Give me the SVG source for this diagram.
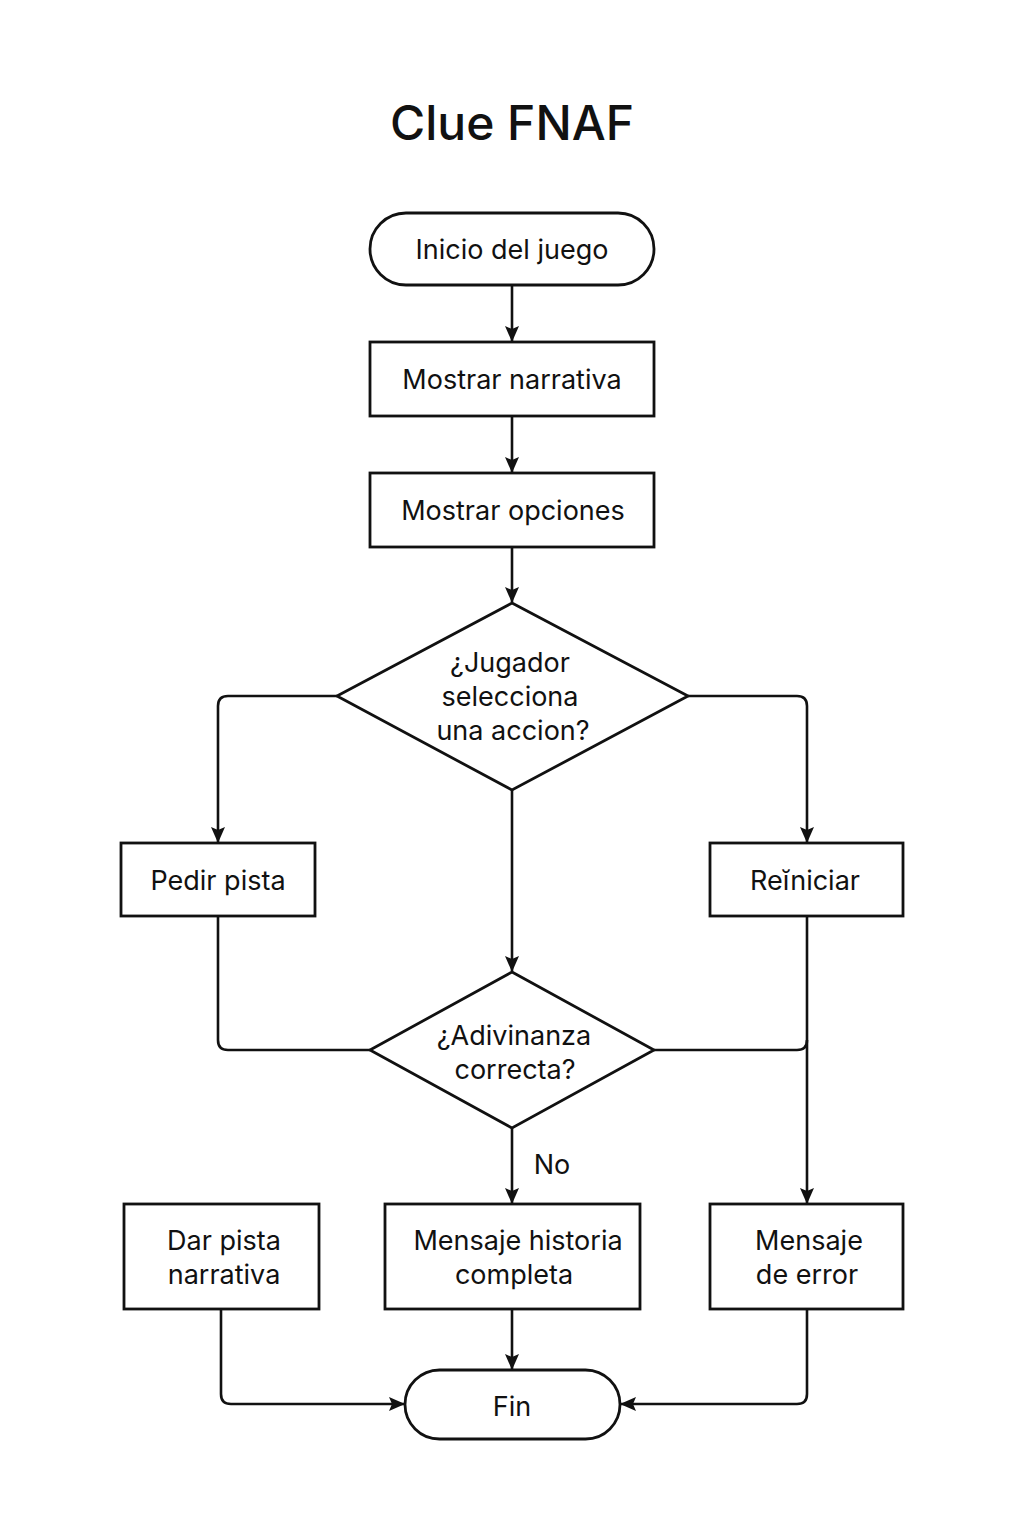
<svg xmlns="http://www.w3.org/2000/svg" width="1024" height="1536" viewBox="0 0 1024 1536">
<defs>
<marker id="ah" viewBox="0 0 16 14" refX="15" refY="7" markerWidth="16" markerHeight="14" markerUnits="userSpaceOnUse" orient="auto">
<path d="M0,0 L16,7 L0,14 L3,7 Z" fill="#111"/>
</marker>
<style>
.n{fill:#fff;stroke:#111;stroke-width:2.8}
.t{font-family:Inter,"Noto Sans","Liberation Sans",sans-serif;font-size:27px;fill:#111;text-anchor:middle}
.c{fill:none;stroke:#111;stroke-width:2.6;stroke-linejoin:round}
</style>
</defs>
<rect width="1024" height="1536" fill="#fff"/>
<text x="512" y="140" font-family="Inter,'Noto Sans','Liberation Sans',sans-serif" font-size="48" font-weight="500" fill="#111" text-anchor="middle">Clue FNAF</text>
<g id="connectors">
<path class="c" d="M512,285 V341" marker-end="url(#ah)"/>
<path class="c" d="M512,416 V472" marker-end="url(#ah)"/>
<path class="c" d="M512,547 V602" marker-end="url(#ah)"/>
<path class="c" d="M337,696 H228 Q218,696 218,706 V842" marker-end="url(#ah)"/>
<path class="c" d="M688,696 H797 Q807,696 807,706 V842" marker-end="url(#ah)"/>
<path class="c" d="M512,790 V971" marker-end="url(#ah)"/>
<path class="c" d="M218,916 V1040 Q218,1050 228,1050 H370"/>
<path class="c" d="M654,1050 H797 Q807,1050 807,1040"/>
<path class="c" d="M807,916 V1203" marker-end="url(#ah)"/>
<path class="c" d="M512,1128 V1203" marker-end="url(#ah)"/>
<path class="c" d="M221,1309 V1394 Q221,1404 231,1404 H404" marker-end="url(#ah)"/>
<path class="c" d="M512,1309 V1369" marker-end="url(#ah)"/>
<path class="c" d="M807,1309 V1394 Q807,1404 797,1404 H621" marker-end="url(#ah)"/>
<text class="t" x="552" y="1174">No</text>
</g>
<g id="inicio"><rect class="n" x="370" y="213" width="284" height="72" rx="36"/><text class="t" x="512" y="259">Inicio del juego</text></g>
<g id="narrativa"><rect class="n" x="370" y="342" width="284" height="74"/><text class="t" x="512" y="389">Mostrar narrativa</text></g>
<g id="opciones"><rect class="n" x="370" y="473" width="284" height="74"/><text class="t" x="513" y="520">Mostrar opciones</text></g>
<g id="decision1"><polygon class="n" points="512,603 688,696 512,790 337,696"/><text class="t" x="510" y="672">¿Jugador</text><text class="t" x="510" y="706">selecciona</text><text class="t" x="513" y="740">una accion?</text></g>
<g id="pedir"><rect class="n" x="121" y="843" width="194" height="73"/><text class="t" x="218" y="890">Pedir pista</text></g>
<g id="reiniciar"><rect class="n" x="710" y="843" width="193" height="73"/><text class="t" x="805" y="890">Reĭniciar</text></g>
<g id="decision2"><polygon class="n" points="512,972 654,1050 512,1128 370,1050"/><text class="t" x="514" y="1045">¿Adivinanza</text><text class="t" x="515" y="1079">correcta?</text></g>
<g id="darpista"><rect class="n" x="124" y="1204" width="195" height="105"/><text class="t" x="224" y="1250">Dar pista</text><text class="t" x="224" y="1284">narrativa</text></g>
<g id="historia"><rect class="n" x="385" y="1204" width="255" height="105"/><text class="t" x="518" y="1250">Mensaje historia</text><text class="t" x="514" y="1284">completa</text></g>
<g id="error"><rect class="n" x="710" y="1204" width="193" height="105"/><text class="t" x="809" y="1250">Mensaje</text><text class="t" x="807" y="1284">de error</text></g>
<g id="fin"><rect class="n" x="405" y="1370" width="215" height="69" rx="34.5"/><text class="t" x="512" y="1416">Fin</text></g>
</svg>
